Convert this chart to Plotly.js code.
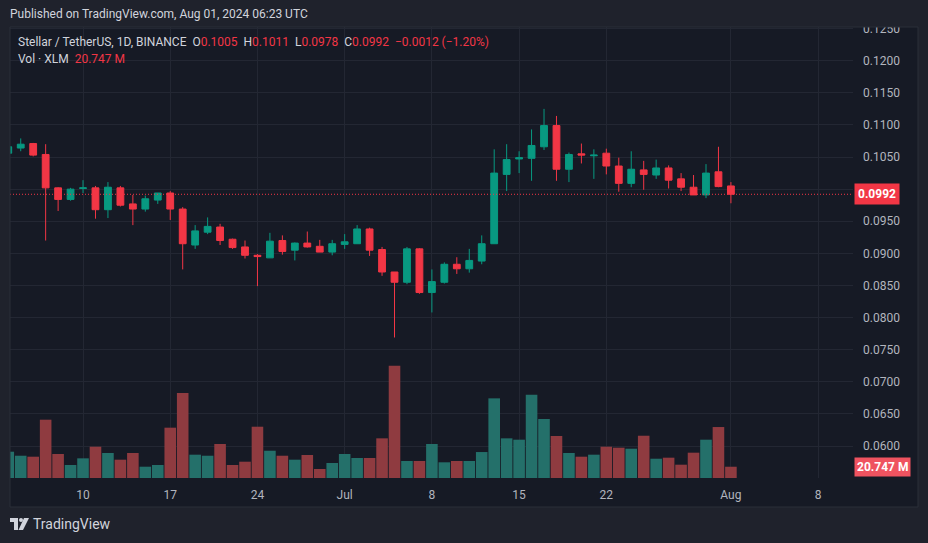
<!DOCTYPE html>
<html>
<head>
<meta charset="utf-8">
<script src="https://cdn.plot.ly/plotly-3.0.1.min.js"></script>
<style>
html,body{margin:0;padding:0;background:#1f222c;}
#chart{width:928px;height:543px;}
</style>
</head>
<body>
<div id="chart"></div>
<script>
// ---------- DATA ----------
const dates = [
 '2024-06-04','2024-06-05','2024-06-06','2024-06-07','2024-06-08','2024-06-09','2024-06-10',
 '2024-06-11','2024-06-12','2024-06-13','2024-06-14','2024-06-15','2024-06-16','2024-06-17',
 '2024-06-18','2024-06-19','2024-06-20','2024-06-21','2024-06-22','2024-06-23','2024-06-24',
 '2024-06-25','2024-06-26','2024-06-27','2024-06-28','2024-06-29','2024-06-30','2024-07-01',
 '2024-07-02','2024-07-03','2024-07-04','2024-07-05','2024-07-06','2024-07-07','2024-07-08',
 '2024-07-09','2024-07-10','2024-07-11','2024-07-12','2024-07-13','2024-07-14','2024-07-15',
 '2024-07-16','2024-07-17','2024-07-18','2024-07-19','2024-07-20','2024-07-21','2024-07-22',
 '2024-07-23','2024-07-24','2024-07-25','2024-07-26','2024-07-27','2024-07-28','2024-07-29',
 '2024-07-30','2024-07-31','2024-08-01'
];
const opens = [
 0.1056,0.1064,0.1071,0.1054,0.1002,0.0984,0.1001,
 0.1002,0.0968,0.1002,0.0977,0.0969,0.0983,0.0994,
 0.0969,0.0913,0.0933,0.0941,0.0922,0.0910,0.0897,
 0.0893,0.0920,0.0905,0.0916,0.0911,0.0902,0.0914,
 0.0915,0.0938,0.0906,0.0871,0.0855,0.0907,0.0839,
 0.0855,0.0883,0.0876,0.0888,0.0915,0.1023,0.1047,
 0.1048,0.1066,0.1099,0.1031,0.1055,0.1052,0.1056,
 0.1036,0.1009,0.1030,0.1022,0.1033,0.1016,0.1003,
 0.0991,0.1027,0.1005
];
const highs = [
 0.1070,0.1079,0.1072,0.1070,0.1003,0.1002,0.1014,
 0.1005,0.1011,0.1005,0.0991,0.0990,0.0994,0.0997,
 0.0972,0.0944,0.0956,0.0946,0.0923,0.0920,0.0899,
 0.0932,0.0928,0.0917,0.0934,0.0921,0.0921,0.0930,
 0.0944,0.0940,0.0910,0.0871,0.0910,0.0908,0.0875,
 0.0886,0.0894,0.0907,0.0928,0.1062,0.1070,0.1059,
 0.1093,0.1125,0.1114,0.1057,0.1071,0.1062,0.1063,
 0.1049,0.1059,0.1044,0.1046,0.1037,0.1025,0.1022,
 0.1039,0.1066,0.1011
];
const lows = [
 0.1050,0.1059,0.1051,0.0920,0.0966,0.0982,0.0994,
 0.0954,0.0955,0.0973,0.0944,0.0965,0.0977,0.0952,
 0.0875,0.0907,0.0930,0.0913,0.0907,0.0892,0.0849,
 0.0893,0.0898,0.0889,0.0909,0.0902,0.0897,0.0907,
 0.0915,0.0896,0.0865,0.0769,0.0852,0.0837,0.0808,
 0.0853,0.0868,0.0870,0.0883,0.0915,0.0997,0.1025,
 0.1013,0.1061,0.1013,0.1011,0.1040,0.1016,0.1023,
 0.0996,0.1003,0.0999,0.1016,0.1001,0.0997,0.0991,
 0.0986,0.1003,0.0978
];
const closes = [
 0.1066,0.1070,0.1053,0.1002,0.0984,0.1000,0.1002,
 0.0968,0.1003,0.0975,0.0969,0.0985,0.0994,0.0969,
 0.0915,0.0935,0.0942,0.0920,0.0909,0.0897,0.0895,
 0.0919,0.0903,0.0916,0.0910,0.0902,0.0915,0.0918,
 0.0938,0.0905,0.0871,0.0855,0.0907,0.0839,0.0856,
 0.0883,0.0876,0.0889,0.0915,0.1025,0.1046,0.1049,
 0.1068,0.1099,0.1031,0.1054,0.1053,0.1053,0.1036,
 0.1009,0.1031,0.1023,0.1033,0.1014,0.1003,0.0991,
 0.1025,0.1004,0.0992
];
// volume in millions of XLM
const volumes = [
 48.4,41.0,39.2,107.3,44.2,23.9,36.2,
 57.6,46.0,33.7,46.0,20.8,23.9,92.6,
 156.4,42.9,41.0,62.6,23.9,30.0,94.4,
 50.2,41.0,33.7,42.3,16.6,27.6,44.2,
 36.8,36.8,73.0,206.6,31.3,31.3,62.6,
 28.9,31.3,31.3,47.8,146.6,73.0,70.5,
 153.3,108.6,77.3,46.0,39.2,42.9,57.6,
 55.8,53.9,77.8,35.5,37.4,24.5,46.6,
 70.5,93.8,20.747
];
const tickDates = ['2024-06-10','2024-06-17','2024-06-24','2024-07-01','2024-07-08','2024-07-15','2024-07-22','2024-08-01','2024-08-08'];
const tickLabels = ['10','17','24','Jul','8','15','22','Aug','8'];
const priceTicks = [0.0600,0.0650,0.0700,0.0750,0.0800,0.0850,0.0900,0.0950,0.1000,0.1050,0.1100,0.1150,0.1200,0.1250];
const symbolTitle = 'Stellar / TetherUS, 1D, BINANCE';
const volTitle = 'Vol · XLM';
const publishedText = 'Published on TradingView.com, Aug 01, 2024 06:23 UTC';
const brandText = 'TradingView';

// ---------- STYLE ----------
const UP = '#089981', DOWN = '#f23645';
const UPV = '#24706a', DOWNV = '#8f3b40';
const OUTER = '#1f222c', INNER = '#161a25', GRID = '#232733';
const FONT = 'Roboto, "Noto Sans", sans-serif';

// pixel helpers for decoration placement
const L = 10, PW = 843, T = 27, PH = 451;
const PX = x => (x - L) / PW;
const PY = y => (T + PH - y) / PH;

const n = closes.length;
const lastO = opens[n-1], lastH = highs[n-1], lastL = lows[n-1], lastC = closes[n-1];
const chg = lastC - closes[n-2];
const pct = chg / closes[n-2] * 100;
const sgn = v => (v < 0 ? '\u2212' : '+');
const chgTxt = sgn(chg) + Math.abs(chg).toFixed(4) + ' (' + sgn(pct) + Math.abs(pct).toFixed(2) + '%)';
const red = s => '<span style="color:' + DOWN + '">' + s + '</span>';
const volColors = closes.map((c, i) => c >= opens[i] ? UPV : DOWNV);
// the 0.1000 label sits under the last-price tag, as in the original: leave it blank
const priceTickText = priceTicks.map(v => Math.abs(v - lastC) < 0.0012 ? '' : v.toFixed(4));

const volTrace = {
  type: 'bar', x: dates, y: volumes, yaxis: 'y2',
  marker: {color: volColors, line: {width: 0}},
  width: 0.93 * 86400000, hoverinfo: 'skip'
};
const candle = {
  type: 'candlestick', x: dates, open: opens, high: highs, low: lows, close: closes,
  increasing: {line: {color: UP, width: 1}, fillcolor: UP},
  decreasing: {line: {color: DOWN, width: 1}, fillcolor: DOWN},
  whiskerwidth: 0, hoverinfo: 'skip'
};

const nb = '\u00a0';
const gap = nb + ' ';
const layout = {
  width: 928, height: 543,
  paper_bgcolor: OUTER, plot_bgcolor: INNER,
  margin: {l: 10, r: 75, t: 27, b: 65},
  showlegend: false,
  boxgap: 0.22,
  font: {family: FONT, color: '#b2b5be', size: 12},
  xaxis: {
    type: 'date', range: ['2024-06-04 03:20', '2024-08-10 19:10'],
    tickmode: 'array', tickvals: tickDates, ticktext: tickLabels,
    showgrid: true, gridcolor: GRID, gridwidth: 1, zeroline: false, showline: false,
    ticks: '', ticklabelstandoff: 8,
    tickfont: {family: FONT, color: '#b2b5be', size: 12},
    rangeslider: {visible: false}, fixedrange: true
  },
  yaxis: {
    side: 'right', range: [0.05502, 0.12525],
    tickmode: 'array', tickvals: priceTicks, ticktext: priceTickText,
    showgrid: true, gridcolor: GRID, gridwidth: 1, zeroline: false, showline: false,
    ticks: '', ticklabelstandoff: 9,
    tickfont: {family: FONT, color: '#b2b5be', size: 12},
    fixedrange: true
  },
  yaxis2: {overlaying: 'y', range: [0, 830], visible: false, fixedrange: true},
  shapes: [
    {type: 'rect', xref: 'paper', yref: 'paper', x0: PX(10), x1: PX(918), y0: PY(507), y1: PY(27),
     fillcolor: INNER, line: {width: 0}, layer: 'below'},
    {type: 'line', xref: 'paper', yref: 'y', x0: 0, x1: 1, y0: lastC, y1: lastC,
     line: {color: DOWN, width: 1, dash: '1px,2px'}},
    {type: 'rect', xref: 'paper', yref: 'paper', x0: PX(0), x1: PX(928), y0: PY(27), y1: PY(0),
     fillcolor: OUTER, line: {width: 0}, layer: 'above'},
    {type: 'rect', xref: 'paper', yref: 'paper', x0: PX(10), x1: PX(918), y0: PY(507), y1: PY(27),
     fillcolor: 'rgba(0,0,0,0)', line: {color: '#2a2e39', width: 1}, layer: 'above'},
    // TradingView logo
    {type: 'path', xref: 'paper', yref: 'paper',
     path: 'M' + PX(10) + ',' + PY(518) + ' L' + PX(18) + ',' + PY(518) + ' L' + PX(18) + ',' + PY(530) +
           ' L' + PX(14) + ',' + PY(530) + ' L' + PX(14) + ',' + PY(522) + ' L' + PX(10) + ',' + PY(522) + ' Z',
     fillcolor: '#d1d4dc', line: {width: 0}, layer: 'above'},
    {type: 'circle', xref: 'paper', yref: 'paper', x0: PX(19), x1: PX(23), y0: PY(522), y1: PY(518),
     fillcolor: '#d1d4dc', line: {width: 0}, layer: 'above'},
    {type: 'path', xref: 'paper', yref: 'paper',
     path: 'M' + PX(24) + ',' + PY(518) + ' L' + PX(29) + ',' + PY(518) + ' L' + PX(23) + ',' + PY(530) +
           ' L' + PX(18.5) + ',' + PY(530) + ' Z',
     fillcolor: '#d1d4dc', line: {width: 0}, layer: 'above'}
  ],
  annotations: [
    {xref: 'paper', yref: 'paper', x: PX(8), y: PY(14), xanchor: 'left', yanchor: 'middle',
     text: publishedText, showarrow: false, font: {family: FONT, size: 12, color: '#d1d4dc'}},
    {xref: 'paper', yref: 'paper', x: PX(16), y: PY(42), xanchor: 'left', yanchor: 'middle',
     text: symbolTitle + gap + 'O' + red(lastO.toFixed(4)) + gap + 'H' + red(lastH.toFixed(4)) +
           gap + 'L' + red(lastL.toFixed(4)) + gap + 'C' + red(lastC.toFixed(4)) + gap + red(chgTxt),
     showarrow: false, font: {family: FONT, size: 12, color: '#d1d4dc'}},
    {xref: 'paper', yref: 'paper', x: PX(16), y: PY(59), xanchor: 'left', yanchor: 'middle',
     text: volTitle + gap + red(volumes[n-1].toFixed(3) + ' M'),
     showarrow: false, font: {family: FONT, size: 12, color: '#d1d4dc'}},
    {xref: 'paper', yref: 'y', x: PX(854), y: lastC, xanchor: 'left', yanchor: 'middle',
     text: '<b>' + lastC.toFixed(4) + '</b>', showarrow: false, bgcolor: DOWN, borderpad: 3,
     font: {family: FONT, size: 12, color: '#ffffff'}},
    {xref: 'paper', yref: 'y2', x: PX(854), y: volumes[n-1], xanchor: 'left', yanchor: 'middle',
     text: '<b>' + volumes[n-1].toFixed(3) + ' M</b>', showarrow: false, bgcolor: '#ef5360', borderpad: 2,
     font: {family: FONT, size: 12, color: '#ffffff'}},
    {xref: 'paper', yref: 'paper', x: PX(31), y: PY(524), xanchor: 'left', yanchor: 'middle',
     text: brandText, showarrow: false, font: {family: FONT, size: 14, color: '#d1d4dc'}}
  ]
};

Plotly.newPlot('chart', [volTrace, candle], layout, {staticPlot: true, displayModeBar: false});
</script>
</body>
</html>
